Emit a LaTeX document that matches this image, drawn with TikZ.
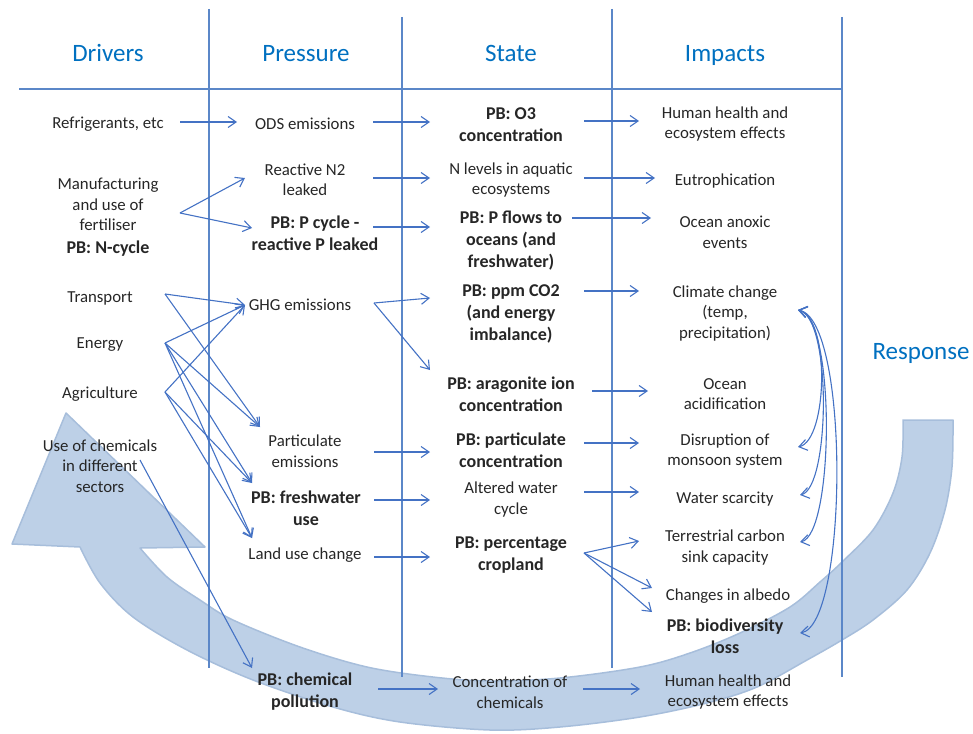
\documentclass[tikz,border=0pt]{standalone}
\usepackage{fontspec}
\setmainfont{Carlito}
\usetikzlibrary{arrows.meta}
\definecolor{textc}{HTML}{262626}
\definecolor{headc}{HTML}{0070C0}
\definecolor{arrc}{HTML}{4472C4}
\definecolor{gridc}{HTML}{5B87C8}
\definecolor{bandfill}{HTML}{BDD0E7}
\definecolor{banddraw}{HTML}{A7BEDB}
\newcommand\myreg{\fontsize{16.8}{20.5}\selectfont}
\newcommand\mybold{\fontsize{18}{22}\selectfont\bfseries}
\newcommand\myhead{\fontsize{25}{30}\selectfont}
\begin{document}
\begin{tikzpicture}[x=1pt,y=-1pt,
  txt/.style={font=\myreg, align=center, inner sep=0pt, text=textc},
  btxt/.style={font=\mybold, align=center, inner sep=0pt, text=textc},
  head/.style={font=\myhead, text=headc, inner sep=0pt, anchor=base},
  arr/.style={draw=arrc, line width=1.1pt, -{Straight Barb[length=8pt,width=11pt]}},
  curv/.style={draw=arrc, line width=1.1pt, {Straight Barb[length=8pt,width=11pt]}-{Straight Barb[length=8pt,width=11pt]}},
  gridline/.style={draw=gridc, line width=1.1pt},
  bigarrow/.style={fill=bandfill, draw=banddraw, line width=1.5pt, line join=round}]
\useasboundingbox (0,0) rectangle (973,733);

% big curved response arrow
\path[bigarrow] (903,420) -- plot[smooth,tension=0.55] coordinates {(953,420) (952,467) (945,510) (930,553) (907,590) (873,620) (842,640) (807,660) (757,687) (707,703) (640,717) (560,727) (490,730) (400,722) (333,707) (253,680) (187,650) (133,617) (100,583) (80,547)}
  -- (12,544) -- (66,413) -- (205,547)
  -- plot[smooth,tension=0.55] coordinates {(140,548) (167,577) (200,600) (233,620) (300,647) (367,667) (433,677) (490,681) (560,678) (640,667) (690,653) (740,633) (790,607) (820,582) (842,562) (873,530) (893,493) (902,457) (903,420)} -- cycle;

% grid
\draw[gridline] (209,9) -- (209,668);
\draw[gridline] (402,17) -- (402,677);
\draw[gridline] (612,9) -- (612,668);
\draw[gridline] (842,17) -- (842,677);
\draw[gridline] (19,89) -- (842,89);

% headers
\node[head] (hdrd) at (108,62) {Drivers};
\node[head] (hdrp) at (306,62) {Pressure};
\node[head] (hdrs) at (511,62) {State};
\node[head] (hdri) at (725,62) {Impacts};
\node[head] (hdrr) at (921,359) {Response};

% drivers
\node[txt] (refr) at (108,124) {Refrigerants, etc};
\node[txt] (manu) at (108,217) {Manufacturing\\and use of\\fertiliser\\[2pt]{\mybold PB: N-cycle}};
\node[txt] (transp) at (100,298) {Transport};
\node[txt] (energy) at (100,345) {Energy};
\node[txt] (agri) at (100,394) {Agriculture};
\node[txt] (chem) at (100,466) {Use of chemicals\\in different\\sectors};

% pressure
\node[txt] (ods) at (305,124) {ODS emissions};
\node[txt] (rn2) at (305,180) {Reactive N2\\leaked};
\node[btxt] (pcyc) at (315,233.5) {PB: P cycle -\\reactive P leaked};
\node[txt] (ghg) at (300,305) {GHG emissions};
\node[txt] (partem) at (305,451) {Particulate\\emissions};
\node[btxt] (fresh) at (306,508) {PB: freshwater\\use};
\node[txt] (landuse) at (305,555) {Land use change};
\node[btxt] (chempol) at (305,692) {PB: chemical\\pollution};

% state
\node[btxt] (o3) at (511,124.5) {PB: O3\\concentration};
\node[txt] (nlev) at (511,180) {N levels in aquatic\\ecosystems};
\node[btxt] (pflow) at (511,241) {PB: P flows to\\oceans (and\\freshwater)};
\node[btxt] (co2) at (511,313.5) {PB: ppm CO2\\(and energy\\imbalance)};
\node[btxt] (arag) at (511,394.5) {PB: aragonite ion\\concentration};
\node[btxt] (pconc) at (511,450) {PB: particulate\\concentration};
\node[txt] (water) at (511,499.5) {Altered water\\cycle};
\node[btxt] (crop) at (511,555) {PB: percentage\\cropland};
\node[txt] (conc) at (510,692) {Concentration of\\chemicals};

% impacts
\node[txt] (hh1) at (725,124) {Human health and\\ecosystem effects};
\node[txt] (eutro) at (725,181) {Eutrophication};
\node[txt] (anox) at (725,232.5) {Ocean anoxic\\events};
\node[txt] (clim) at (725,313.5) {Climate change\\(temp,\\precipitation)};
\node[txt] (acid) at (725,394) {Ocean\\acidification};
\node[txt] (monsoon) at (725,451) {Disruption of\\monsoon system};
\node[txt] (wsc) at (725,499) {Water scarcity};
\node[txt] (terr) at (725,547.5) {Terrestrial carbon\\sink capacity};
\node[txt] (albedo) at (728,596) {Changes in albedo};
\node[btxt] (biod) at (725,636.5) {PB: biodiversity\\loss};
\node[txt] (hh2) at (728,692) {Human health and\\ecosystem effects};

% connectors
\draw[arr] ([shift={(72,-2)}]refr.center) -- ([shift={(-68,-2)}]ods.center);
\draw[arr] ([shift={(68,-2)}]ods.center) -- ([shift={(-81,-2.5)}]o3.center);
\draw[arr] ([shift={(73,-3.5)}]o3.center) -- ([shift={(-86,-3)}]hh1.center);
\draw[arr] ([shift={(72,-4)}]manu.center) -- ([shift={(-60,-2)}]rn2.center);
\draw[arr] ([shift={(72,-4)}]manu.center) -- ([shift={(-63,-5.5)}]pcyc.center);
\draw[arr] ([shift={(68,-2)}]rn2.center) -- ([shift={(-81,-2)}]nlev.center);
\draw[arr] ([shift={(58,-6.5)}]pcyc.center) -- ([shift={(-81,-14)}]pflow.center);
\draw[arr] ([shift={(73,-2)}]nlev.center) -- ([shift={(-70,-3)}]eutro.center);
\draw[arr] ([shift={(61,-23)}]pflow.center) -- ([shift={(-74,-14.5)}]anox.center);

\draw[arr] ([shift={(65,-4)}]transp.center) -- ([shift={(-55,0)}]ghg.center);
\draw[arr] ([shift={(65,-4)}]transp.center) -- ([shift={(-45,-24)}]partem.center);
\draw[arr] ([shift={(65,-2)}]energy.center) -- ([shift={(-55,0)}]ghg.center);
\draw[arr] ([shift={(65,-2)}]energy.center) -- ([shift={(-45,-24)}]partem.center);
\draw[arr] ([shift={(65,-2)}]energy.center) -- ([shift={(-54,-25)}]fresh.center);
\draw[arr] ([shift={(65,-2)}]energy.center) -- ([shift={(-53,-17)}]landuse.center);
\draw[arr] ([shift={(65,-2)}]agri.center) -- ([shift={(-55,0)}]ghg.center);
\draw[arr] ([shift={(65,-2)}]agri.center) -- ([shift={(-54,-25)}]fresh.center);
\draw[arr] ([shift={(65,-2)}]agri.center) -- ([shift={(-53,-17)}]landuse.center);
\draw[arr] ([shift={(40,-6)}]chem.center) -- ([shift={(-53,-24)}]chempol.center);

\draw[arr] ([shift={(74,-2)}]ghg.center) -- ([shift={(-81,-15.5)}]co2.center);
\draw[arr] ([shift={(74,-2)}]ghg.center) -- ([shift={(-81,-24.5)}]arag.center);
\draw[arr] ([shift={(69,1)}]partem.center) -- ([shift={(-81,2)}]pconc.center);
\draw[arr] ([shift={(68,-8)}]fresh.center) -- ([shift={(-81,0.5)}]water.center);
\draw[arr] ([shift={(69,2)}]landuse.center) -- ([shift={(-81,2)}]crop.center);
\draw[arr] ([shift={(73,-3)}]chempol.center) -- ([shift={(-72,-3)}]conc.center);

\draw[arr] ([shift={(73,-3)}]conc.center) -- ([shift={(-88,-3)}]hh2.center);
\draw[arr] ([shift={(73,-22.5)}]co2.center) -- ([shift={(-86,-22.5)}]clim.center);
\draw[arr] ([shift={(81,-3.5)}]arag.center) -- ([shift={(-77,-3)}]acid.center);
\draw[arr] ([shift={(73,-7)}]pconc.center) -- ([shift={(-86,-8)}]monsoon.center);
\draw[arr] ([shift={(73,-7.5)}]water.center) -- ([shift={(-86,-7)}]wsc.center);
\draw[arr] ([shift={(73,-2)}]crop.center) -- ([shift={(-86,-6.5)}]terr.center);
\draw[arr] ([shift={(73,-2)}]crop.center) -- ([shift={(-76,-8)}]albedo.center);
\draw[arr] ([shift={(73,-2)}]crop.center) -- ([shift={(-73,-24.5)}]biod.center);

% feedback curves from climate change
\draw[curv] ([shift={(73,-3.5)}]clim.center) .. controls ([shift={(105,4.5)}]clim.center) and ([shift={(103,-11)}]monsoon.center) .. ([shift={(73,-4)}]monsoon.center);
\draw[curv] ([shift={(73,-3.5)}]clim.center) .. controls ([shift={(107,4.5)}]clim.center) and ([shift={(105,-11)}]wsc.center) .. ([shift={(75,-4)}]wsc.center);
\draw[curv] ([shift={(73,-3.5)}]clim.center) .. controls ([shift={(111,4.5)}]clim.center) and ([shift={(109,-12.5)}]terr.center) .. ([shift={(75,-5.5)}]terr.center);
\draw[curv] ([shift={(73,-3.5)}]clim.center) .. controls ([shift={(125,6.5)}]clim.center) and ([shift={(123,-11.5)}]biod.center) .. ([shift={(75,-3.5)}]biod.center);
\end{tikzpicture}
\end{document}
